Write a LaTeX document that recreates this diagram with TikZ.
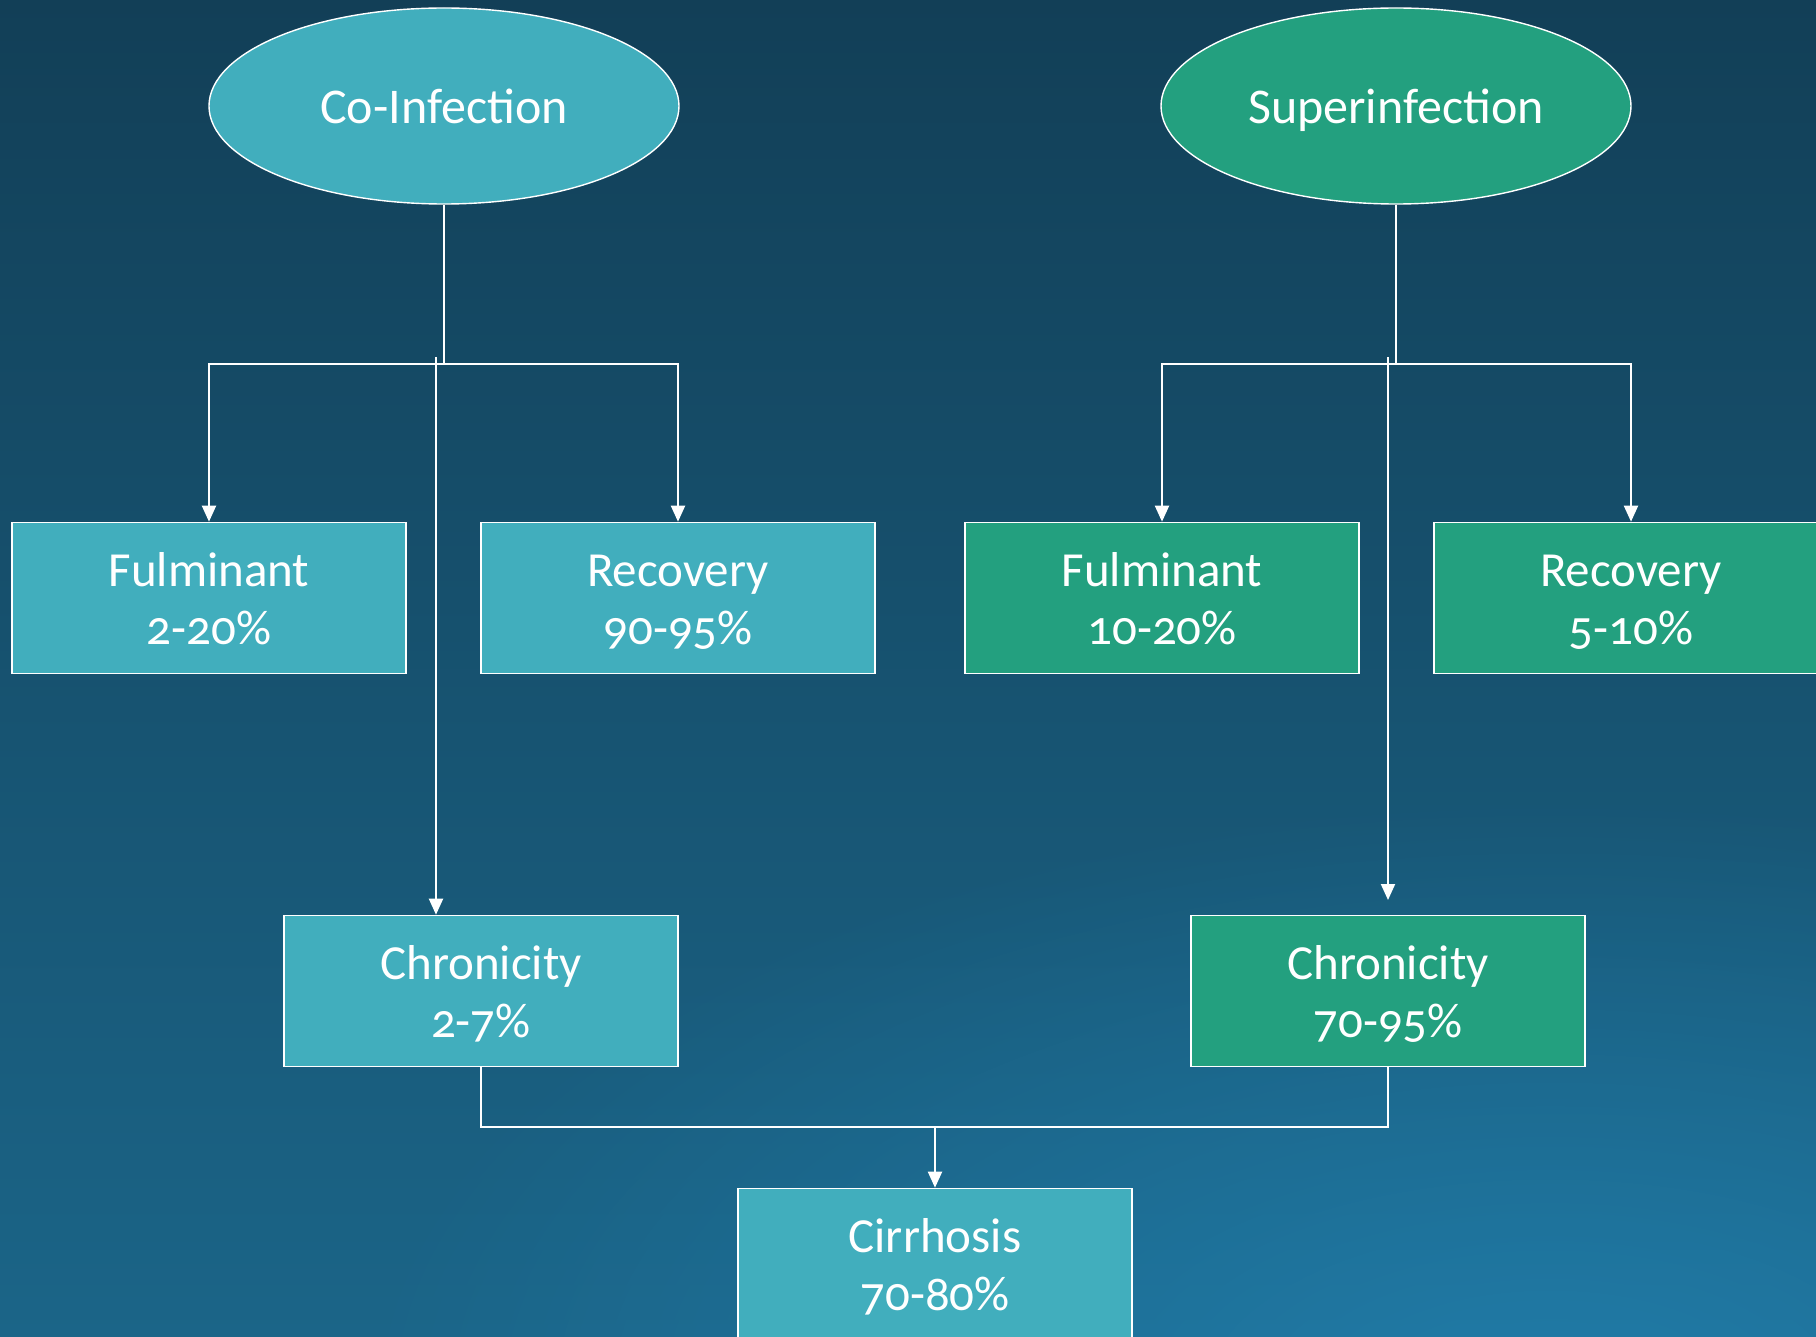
\documentclass[tikz,border=0pt]{standalone}
\usepackage{fontspec}
\setmainfont{Carlito}[Numbers=OldStyle]
\usetikzlibrary{shapes.geometric,arrows.meta,fadings}
\definecolor{bgtop}{HTML}{123F57}
\definecolor{bgbot}{HTML}{1B6588}
\definecolor{glow}{HTML}{2385B5}
\definecolor{tealbox}{HTML}{41AEBD}
\definecolor{greenbox}{HTML}{23A07F}
\newcommand\mystrut{\rule[-5.7pt]{0pt}{29pt}}
\tikzfading[name=glowfade, inner color=transparent!0, outer color=transparent!100]
\tikzset{
  ell/.style={ellipse, draw=white, line width=0.7pt, minimum width=235pt, minimum height=98pt, inner sep=0pt, text=white, text height=20pt, text depth=2pt, font=\fontsize{25}{29}\selectfont},
  box/.style={rectangle, draw=white, line width=0.8pt, minimum width=197pt, minimum height=75.5pt, inner sep=0pt, align=center, text=white, font=\fontsize{24.5}{29}\selectfont},
  tbox/.style={box, fill=tealbox},
  gbox/.style={box, fill=greenbox},
  conn/.style={draw=white, line width=1pt},
  arr/.style={conn, -{Triangle[length=8pt,width=7pt]}}
}
\begin{document}
\begin{tikzpicture}[x=0.5pt,y=-0.5pt]
\useasboundingbox (0,0) rectangle (1816,1337);
\shade[top color=bgtop, bottom color=bgbot] (0,0) rectangle (1816,1337);
\begin{scope}
\clip (0,0) rectangle (1816,1337);
\fill[glow, opacity=0.7, path fading=glowfade] (1550,1400) ellipse (600pt and 300pt);
\end{scope}

\node[ell, fill=tealbox] (co) at (444,106) {Co-Infection};
\node[ell, fill=greenbox] (sup) at (1396,106) {Superinfection};

\node[tbox] (f1) at (209,598) {\mystrut Fulminant\\\mystrut 2-20\%};
\node[tbox] (r1) at (678,598) {\mystrut Recovery\\\mystrut 90-95\%};
\node[gbox] (f2) at (1162,598) {\mystrut Fulminant\\\mystrut 10-20\%};
\node[gbox] (r2) at (1631,598) {\mystrut Recovery\\\mystrut 5-10\%};
\node[tbox] (c1) at (481,991) {\mystrut Chronicity\\\mystrut 2-7\%};
\node[gbox] (c2) at (1388,991) {\mystrut Chronicity\\\mystrut 70-95\%};
\node[tbox] (cir) at (935,1264) {\mystrut Cirrhosis\\\mystrut 70-80\%};

\coordinate (j1) at (444,364);
\coordinate (s1) at (436,357);
\coordinate (j2) at (1396,364);
\coordinate (s2) at (1388,357);
\coordinate (e2) at (1388,900);
\coordinate (m) at (935,1127);

\draw[conn] (co.south) -- (j1);
\draw[arr] (j1) -| (f1.north);
\draw[arr] (j1) -| (r1.north);
\draw[arr] (s1) -- (s1 |- c1.north);

\draw[conn] (sup.south) -- (j2);
\draw[arr] (j2) -| (f2.north);
\draw[arr] (j2) -| (r2.north);
\draw[arr] (s2) -- (e2);

\draw[conn] (c1.south) -- (c1.south |- m) -- (c2.south |- m) -- (c2.south);
\draw[arr] (m) -- (cir.north);
\end{tikzpicture}
\end{document}
